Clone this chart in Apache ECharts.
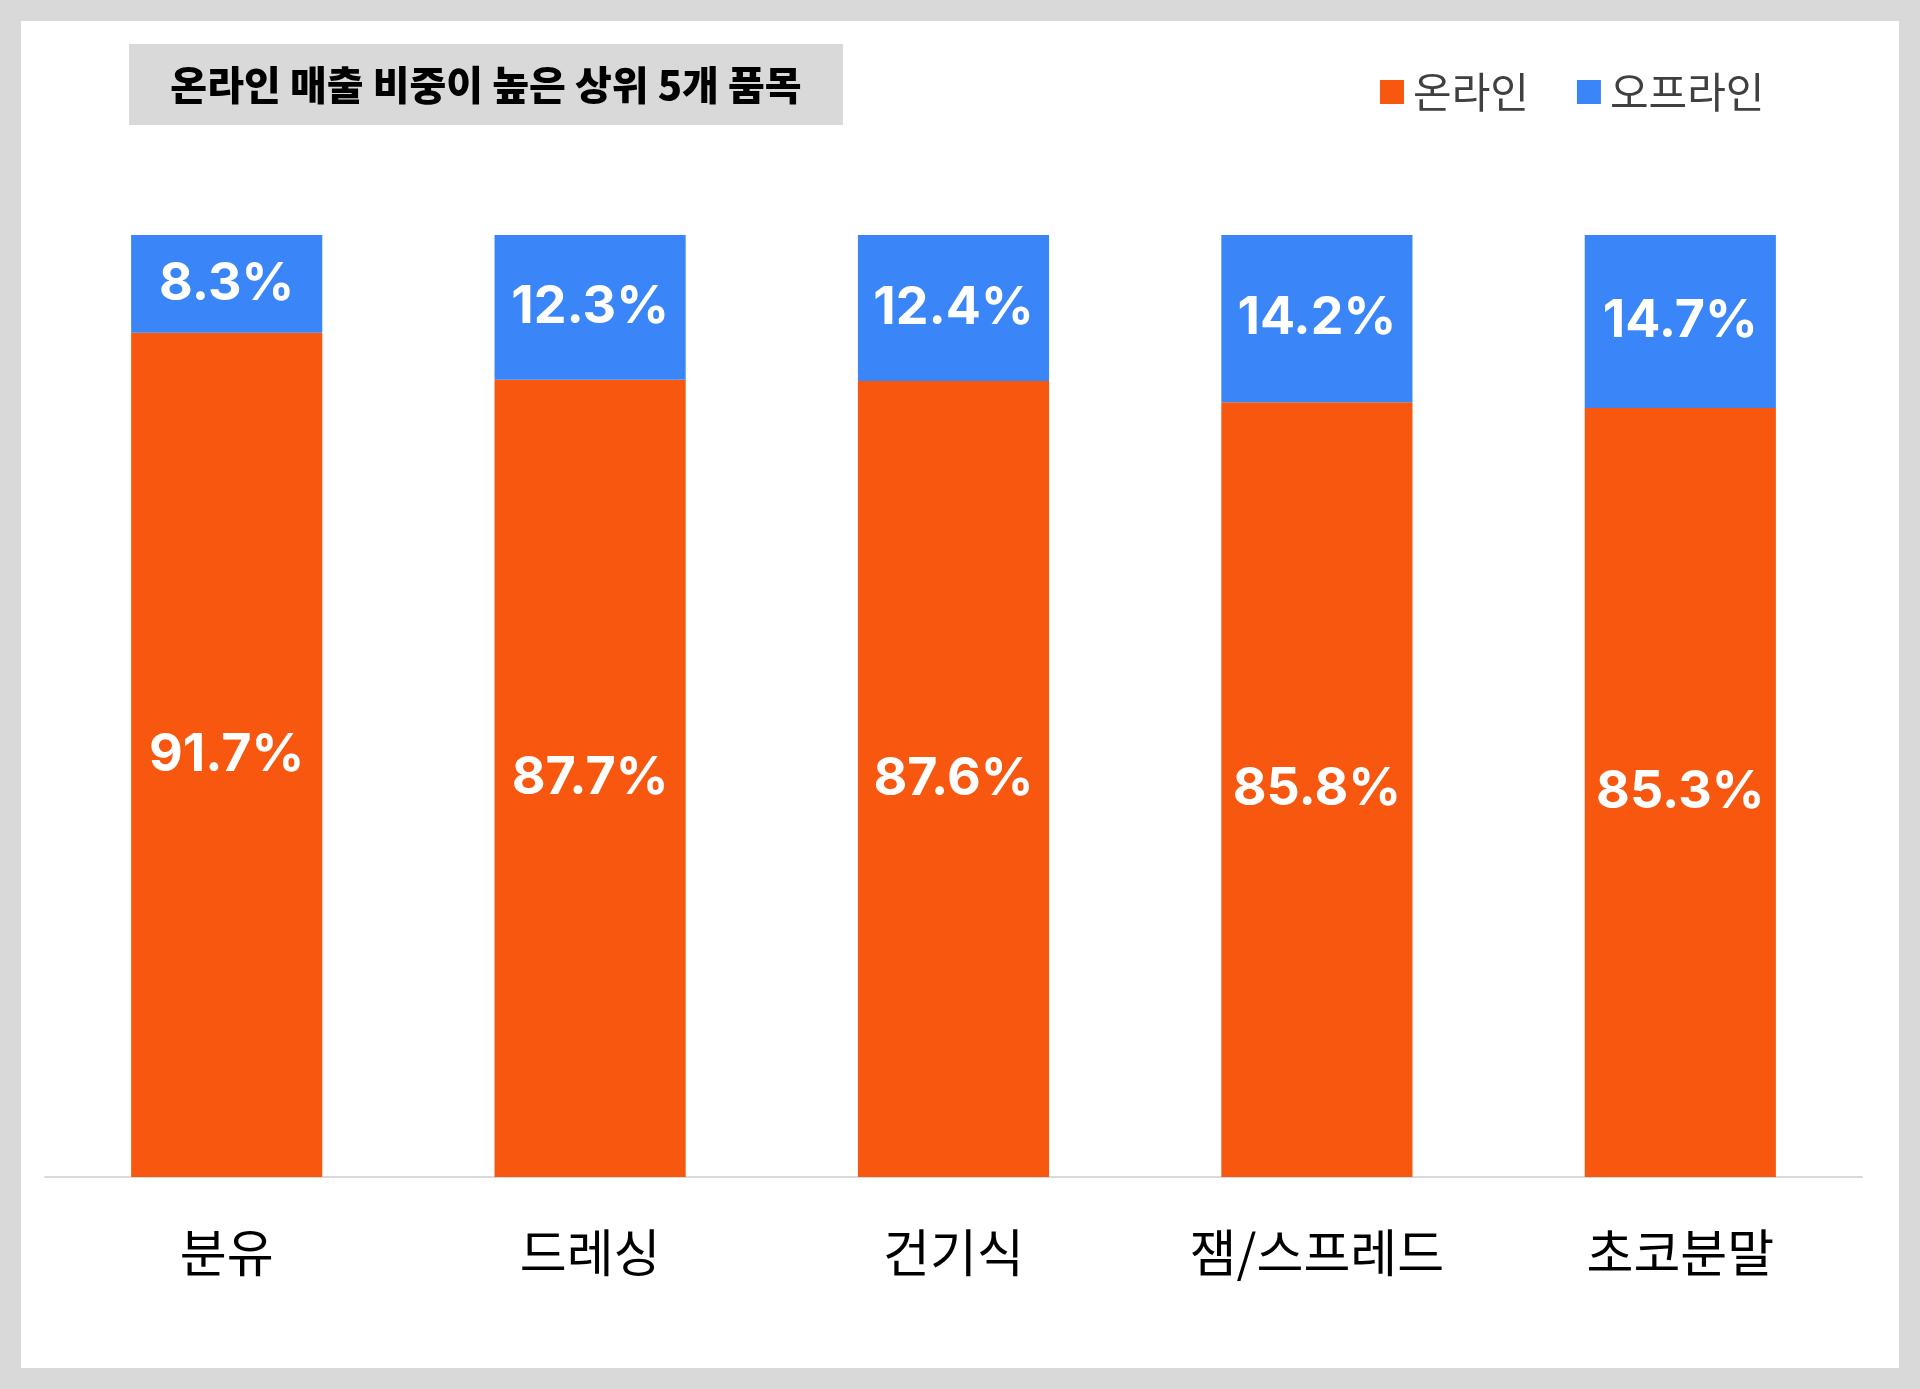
<!DOCTYPE html>
<html>
<head>
<meta charset="utf-8">
<script src="https://cdn.jsdelivr.net/npm/echarts@6/dist/echarts.min.js"></script>
<style>
html,body{margin:0;padding:0;background:#d9d9d9;}
#chart{width:1920px;height:1389px;}
</style>
</head>
<body>
<div id="chart"></div>
<script>
const titleText = '온라인 매출 비중이 높은 상위 5개 품목';
const categories = ['분유', '드레싱', '건기식', '잼/스프레드', '초코분말'];
const onlineValues = [91.7, 87.7, 87.6, 85.8, 85.3];
const offlineValues = [8.3, 12.3, 12.4, 14.2, 14.7];
const seriesNames = ['온라인', '오프라인'];

const KR = '"Noto Sans CJK KR", "Noto Sans", sans-serif';
const NUM = 'Inter, "Noto Sans CJK KR", sans-serif';

const chart = echarts.init(document.getElementById('chart'));
const labelStyle = {
  show: true,
  position: 'inside',
  color: '#ffffff',
  fontFamily: NUM,
  fontWeight: 'bold',
  fontSize: 52,
  formatter: p => p.value.toFixed(1) + '%'
};
chart.setOption({
  backgroundColor: '#d9d9d9',
  animation: false,
  graphic: [
    { type: 'rect', z: -10, shape: { x: 21, y: 21, width: 1878, height: 1347 }, style: { fill: '#ffffff' }, silent: true },
    { type: 'rect', z: -9, shape: { x: 129, y: 44, width: 714, height: 81 }, style: { fill: '#d9d9d9' }, silent: true }
  ],
  title: {
    text: titleText,
    left: 486,
    top: 84.5,
    textAlign: 'center',
    textVerticalAlign: 'middle',
    padding: 0,
    textStyle: { fontFamily: KR, fontWeight: 900, fontSize: 40, color: '#000000' }
  },
  legend: {
    data: seriesNames,
    left: 1380,
    top: 71,
    icon: 'rect',
    itemWidth: 24,
    itemHeight: 24,
    itemGap: 48,
    padding: 0,
    textStyle: { fontFamily: KR, fontSize: 42, color: '#404040', lineHeight: 42, padding: [0, 0, 0, 4] }
  },
  grid: { left: 45, right: 58, top: 235, bottom: 212, containLabel: false },
  xAxis: {
    type: 'category',
    data: categories,
    axisLine: { show: true, lineStyle: { color: '#d9d9d9', width: 2 } },
    axisTick: { show: false },
    axisLabel: { fontFamily: KR, fontSize: 51, color: '#000000', lineHeight: 51, margin: 50 }
  },
  yAxis: {
    type: 'value',
    min: 20,
    max: 100,
    show: false,
    splitLine: { show: false }
  },
  series: [
    {
      name: seriesNames[0], type: 'bar', stack: 'total', data: onlineValues,
      barWidth: '52.6%', itemStyle: { color: '#F8570F' }, label: labelStyle
    },
    {
      name: seriesNames[1], type: 'bar', stack: 'total', data: offlineValues,
      barWidth: '52.6%', itemStyle: { color: '#3A85F8' }, label: labelStyle
    }
  ]
});
</script>
</body>
</html>
